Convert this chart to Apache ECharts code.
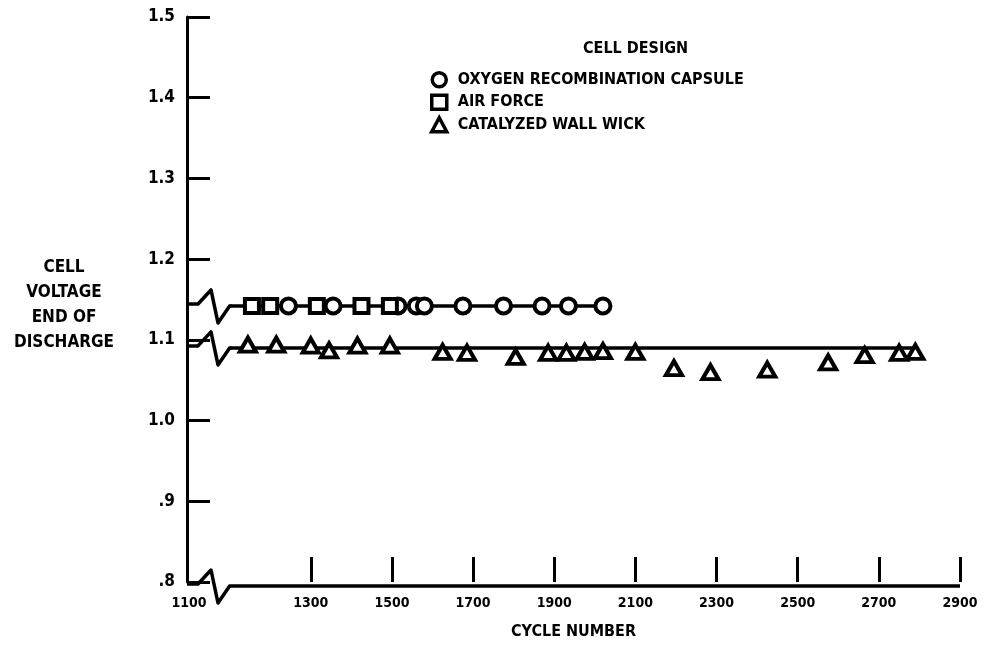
<!DOCTYPE html>
<html>
<head>
<meta charset="utf-8">
<script src="https://cdn.jsdelivr.net/npm/echarts@6/dist/echarts.min.js"></script>
<style>
  html, body { margin: 0; padding: 0; background: #fff; }
  #main { width: 985px; height: 648px; }
</style>
</head>
<body>
<div id="main"></div>
<script>
// cycle number / end-of-discharge voltage
const ocCycles = [1245, 1355, 1515, 1560, 1580, 1675, 1775, 1870, 1935, 2020];
const ocVolts  = [1.142, 1.142, 1.142, 1.142, 1.142, 1.142, 1.142, 1.142, 1.142, 1.142];

const afCycles = [1155, 1200, 1315, 1425, 1495];
const afVolts  = [1.142, 1.142, 1.142, 1.142, 1.142];

const wickCycles = [1145, 1215, 1300, 1345, 1415, 1495, 1625, 1685, 1805, 1885, 1930,
                    1975, 2020, 2100, 2195, 2285, 2425, 2575, 2665, 2750, 2790];
const wickVolts  = [1.094, 1.094, 1.093, 1.087, 1.093, 1.093, 1.085, 1.084, 1.079, 1.084, 1.084,
                    1.085, 1.086, 1.085, 1.065, 1.060, 1.063, 1.072, 1.081, 1.084, 1.085];

// faired lines through each group
const ocLine   = [[1100, 1.142], [2020, 1.142]];
const wickLine = [[1100, 1.090], [2790, 1.090]];

const xTicks = [1300, 1500, 1700, 1900, 2100, 2300, 2500, 2700, 2900];
const xStartLabel = '1100';

const FONT = '"Liberation Sans Narrow", "DejaVu Sans Condensed", "Arial Narrow", "DejaVu Sans", sans-serif';
const INK = '#000';

function pairs(xs, ys) {
  return xs.map((x, i) => [x, ys[i]]);
}

let myChart = echarts.init(document.getElementById('main'));

let markerStyle = { color: '#fff', borderColor: INK, borderWidth: 4, opacity: 1 };

let option = {
  backgroundColor: '#fff',
  animation: false,
  title: {
    text: 'CELL DESIGN',
    left: 578,
    top: 36,
    textStyle: { fontFamily: FONT, fontWeight: 'bold', fontSize: 16, color: INK }
  },
  legend: {
    orient: 'vertical',
    left: 425,
    top: 66,
    itemGap: 5,
    itemWidth: 15,
    itemHeight: 14,
    itemStyle: { borderWidth: 3.5, borderColor: INK, color: '#fff' },
    data: ['OXYGEN RECOMBINATION CAPSULE', 'AIR FORCE', 'CATALYZED WALL WICK'],
    textStyle: { fontFamily: FONT, fontWeight: 'bold', fontSize: 16, color: INK, padding: [0, 0, 0, 6] }
  },
  grid: { left: 187, right: 25, top: 17, bottom: 66, containLabel: false },
  xAxis: {
    type: 'value',
    min: 995,
    max: 2900,
    splitLine: { show: false },
    axisLine: { show: false },
    axisTick: {
      show: true, inside: true, length: 25, customValues: xTicks,
      lineStyle: { color: INK, width: 3 }
    },
    axisLabel: {
      customValues: xTicks, margin: 14,
      fontFamily: FONT, fontWeight: 'bold', fontSize: 14, color: INK,
      formatter: v => String(v)
    },
    name: 'CYCLE NUMBER',
    nameLocation: 'middle',
    nameGap: 42,
    nameTextStyle: { fontFamily: FONT, fontWeight: 'bold', fontSize: 16, color: INK }
  },
  yAxis: {
    type: 'value',
    min: 0.8,
    max: 1.5,
    interval: 0.1,
    splitLine: { show: false },
    axisLine: { show: true, lineStyle: { color: INK, width: 3 } },
    axisTick: { show: true, inside: true, length: 23, lineStyle: { color: INK, width: 3 } },
    axisLabel: {
      margin: 12,
      fontFamily: FONT, fontWeight: 'bold', fontSize: 17, color: INK,
      formatter: v => v < 1 ? '.' + Math.round(v * 10) : v.toFixed(1)
    }
  },
  series: [
    {
      name: 'oc-line', type: 'line', data: ocLine, symbol: 'none', silent: true, z: 1,
      lineStyle: { color: INK, width: 3.5 }
    },
    {
      name: 'wick-line', type: 'line', data: wickLine, symbol: 'none', silent: true, z: 1,
      lineStyle: { color: INK, width: 3.5 }
    },
    {
      name: 'OXYGEN RECOMBINATION CAPSULE', type: 'scatter', symbol: 'circle', symbolSize: 15,
      data: pairs(ocCycles, ocVolts), itemStyle: markerStyle, z: 3
    },
    {
      name: 'AIR FORCE', type: 'scatter', symbol: 'rect', symbolSize: 14,
      data: pairs(afCycles, afVolts), itemStyle: markerStyle, z: 3
    },
    {
      name: 'CATALYZED WALL WICK', type: 'scatter', symbol: 'triangle', symbolSize: [16, 14],
      data: pairs(wickCycles, wickVolts), itemStyle: markerStyle, z: 3
    }
  ]
};

myChart.setOption(option);

// axis breaks: bottom axis and the two faired lines start with a zig-zag
let origin = myChart.convertToPixel({ gridIndex: 0 }, [995, 0.8]);
let xEnd = myChart.convertToPixel({ gridIndex: 0 }, [2900, 0.8])[0];
let x1100 = myChart.convertToPixel({ gridIndex: 0 }, [1100, 0.8])[0];

function breakPoints(y, tail) {
  let x0 = origin[0];
  return [[x0, y], [x0 + 11, y], [x0 + 24, y - 14], [x0 + 31, y + 19], [x1100, y + 2], [tail, y + 2]];
}

let lineStyle = { stroke: INK, lineWidth: 3.5, fill: null, lineJoin: 'round' };
let ocY = myChart.convertToPixel({ gridIndex: 0 }, ocLine[0])[1];
let wickY = myChart.convertToPixel({ gridIndex: 0 }, wickLine[0])[1];

myChart.setOption({
  graphic: [
    { type: 'polyline', shape: { points: breakPoints(origin[1] + 2, xEnd) }, style: lineStyle, z: 5 },
    { type: 'polyline', shape: { points: breakPoints(ocY - 2, x1100 + 2) }, style: lineStyle, z: 5 },
    { type: 'polyline', shape: { points: breakPoints(wickY - 2, x1100 + 2) }, style: lineStyle, z: 5 },
    {
      type: 'text', x: origin[0] + 2, y: origin[1] + 14,
      style: { text: xStartLabel, font: 'bold 14px ' + FONT, fill: INK, align: 'center' }
    },
    {
      type: 'text', x: 64, y: 255,
      style: {
        text: 'CELL\nVOLTAGE\nEND OF\nDISCHARGE',
        font: 'bold 17px ' + FONT, fill: INK, align: 'center', lineHeight: 25
      }
    }
  ]
});
</script>
</body>
</html>
